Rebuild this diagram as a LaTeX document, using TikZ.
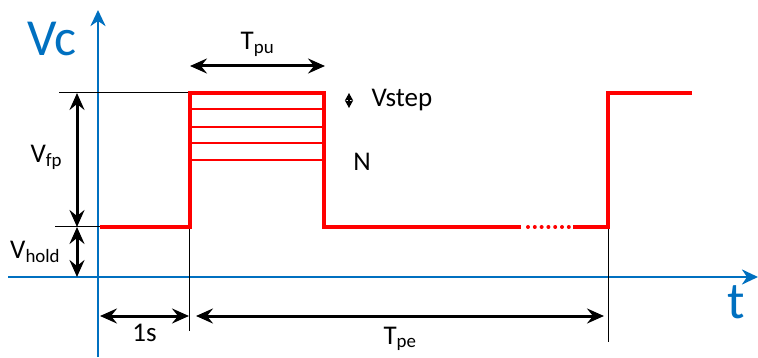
\documentclass[tikz,border=0pt]{standalone}
\usepackage{fontspec}
\setmainfont{Carlito}
\usetikzlibrary{arrows.meta}
\definecolor{vcblue}{RGB}{0,112,192}
\tikzset{
  axisline/.style={draw=vcblue,line width=2.8pt,-{Stealth[length=16pt,width=15pt,inset=5pt]}},
  dimline/.style={line width=3pt,{Stealth[length=17pt,width=15pt,inset=6pt]}-{Stealth[length=17pt,width=15pt,inset=6pt]}},
  signal/.style={draw=red,line width=4pt},
  stepline/.style={draw=red,line width=1.3pt},
  helpline/.style={line width=1pt},
  lbl/.style={font=\fontsize{27}{30}\selectfont},
  biglbl/.style={text=vcblue,font=\fontsize{52}{56}\selectfont}
}
\begin{document}
\begin{tikzpicture}[x=1pt,y=-1pt]
    \useasboundingbox (0,0) rectangle (758,358);
    % axes
    \draw[axisline]
        (98,357) -- (98,10);
    \draw[axisline]
        (8,277) -- (758,277);
    \node[biglbl] (vc) at (52,39) {Vc};
    \node[biglbl] (t) at (736,302) {t};
    % guide lines
    \draw[helpline]
        (59,93) -- (190,93);
    \draw[helpline]
        (55,227) -- (108,227);
    \draw[helpline]
        (189,227) -- (189,331);
    \draw[helpline]
        (608,227) -- (608,342);
    % step levels inside the pulse
    \foreach \y in {109,127,143,160}
        \draw[stepline] (190,\y) -- (324,\y);
    % signal
    \draw[signal,line join=miter]
        (100,227) -- (190,227) -- (190,93) -- (324,93) -- (324,227) -- (521,227);
    \draw[signal,line cap=round,dash pattern=on 0pt off 6.8pt]
        (528,227) -- (570,227);
    \draw[signal,line join=miter]
        (573,227) -- (608,227) -- (608,93) -- (692,93);
    % dimensions
    \draw[dimline]
        (77,93) -- node[lbl,pos=0.48,left=10pt] (vfp) {V\textsubscript{fp}} (77,227);
    \draw[dimline]
        (77,227) -- node[lbl,left=12pt] (vhold) {V\textsubscript{hold}} (77,277);
    \draw[dimline]
        (190,66) -- node[lbl,above=5pt] (tpu) {T\textsubscript{pu}} (325,66);
    \draw[dimline]
        (100,316) -- node[lbl,below=3pt] (onesec) {1s} (189,316);
    \draw[dimline]
        (196,316) -- node[lbl,below=6pt] (tpe) {T\textsubscript{pe}} (604,316);
    \draw[line width=1.5pt,{Stealth[length=7.5pt,width=8pt,inset=1pt]}-{Stealth[length=7.5pt,width=8pt,inset=1pt]}]
        (349,93) -- (349,108);
    \node[lbl,anchor=west] (vstep) at (368,100) {Vstep};
    \node[lbl] (n) at (362,162) {N};
\end{tikzpicture}
\end{document}
